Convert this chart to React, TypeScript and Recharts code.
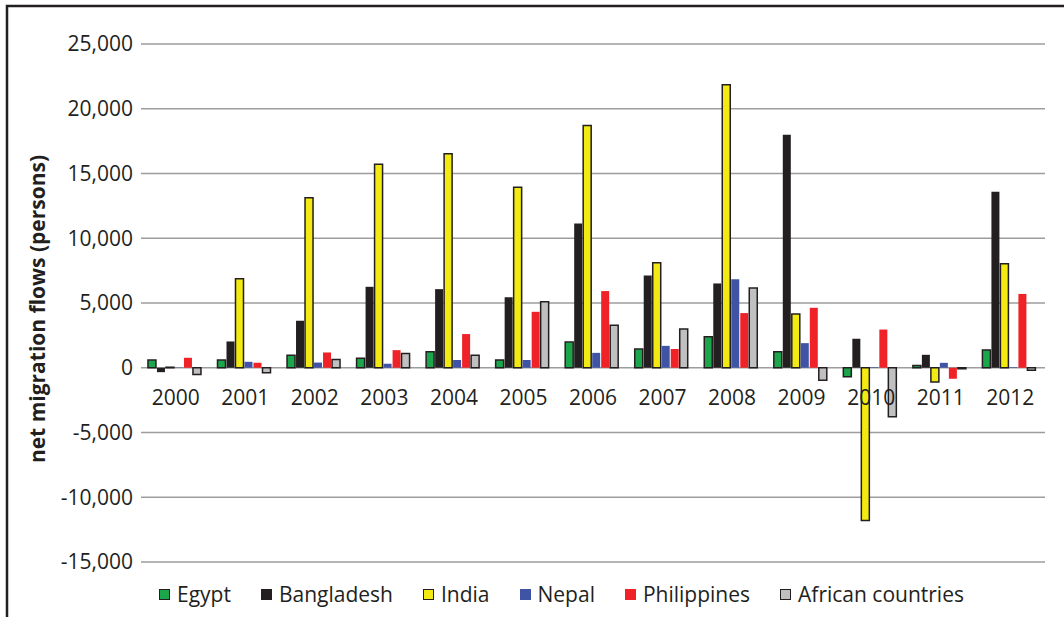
import React from "react";
import { BarChart, Bar, XAxis, YAxis, CartesianGrid } from "recharts";

const years = ["2000", "2001", "2002", "2003", "2004", "2005", "2006", "2007", "2008", "2009", "2010", "2011", "2012"];
const egypt = [590, 590, 970, 740, 1230, 600, 1980, 1440, 2400, 1230, -700, 180, 1370];
const bangladesh = [-340, 2030, 3630, 6250, 6070, 5450, 11140, 7130, 6510, 17990, 2240, 1000, 13590];
const india = [40, 6870, 13130, 15720, 16530, 13940, 18700, 8100, 21850, 4150, -11800, -1100, 8030];
const nepal = [20, 460, 400, 310, 600, 600, 1150, 1690, 6840, 1900, 50, 380, 50];
const philippines = [770, 390, 1180, 1360, 2600, 4320, 5920, 1450, 4220, 4630, 2950, -850, 5700];
const african = [-520, -390, 640, 1100, 970, 5100, 3290, 3000, 6150, -960, -3780, -80, -200];
const yTicks = [-15000, -10000, -5000, 0, 5000, 10000, 15000, 20000, 25000];

const W = 1064;
const H = 617;
const TOP = 44;
const BOTTOM = 562;
const Y_MIN = -15000;
const Y_MAX = 25000;
const INK = "#231F20";
const FONT = "'Open Sans', sans-serif";

const series = [
  { key: "egypt", name: "Egypt", color: "#1CA64B", outlined: true },
  { key: "bangladesh", name: "Bangladesh", color: INK, outlined: false },
  { key: "india", name: "India", color: "#F2EA12", outlined: true },
  { key: "nepal", name: "Nepal", color: "#3F54A5", outlined: false },
  { key: "philippines", name: "Philippines", color: "#EE2227", outlined: false },
  { key: "african", name: "African countries", color: "#C0C0C0", outlined: true },
];

const data = years.map((year, i) => ({
  year,
  egypt: egypt[i],
  bangladesh: bangladesh[i],
  india: india[i],
  nepal: nepal[i],
  philippines: philippines[i],
  african: african[i],
}));

// year labels sit just under the zero line, like Excel does
const zeroY = TOP + (BOTTOM - TOP) * (Y_MAX / (Y_MAX - Y_MIN));

const YearTick = (props: any) => {
  const { x, payload } = props;
  return (
    <text x={x} y={zeroY + 37} textAnchor="middle" fill={INK} fontFamily={FONT} fontSize={21}>
      {payload.value}
    </text>
  );
};

const App = () => {
  return (
    <div style={{ position: "fixed", left: 0, top: 0, width: W, height: H, overflow: "hidden", background: "#fff" }}>
      <div style={{ position: "absolute", left: 0, top: 0 }}>
        <BarChart
          width={W}
          height={H}
          data={data}
          margin={{ top: TOP, right: 19, left: 0, bottom: H - BOTTOM - 30 }}
          barCategoryGap="10%"
          barGap={1}
        >
          <CartesianGrid vertical={false} stroke="#9D9D9D" strokeWidth={1.5} />
          <XAxis
            dataKey="year"
            height={30}
            axisLine={false}
            tickLine={false}
            interval={0}
            tick={<YearTick />}
          />
          <YAxis
            width={141}
            domain={[Y_MIN, Y_MAX]}
            ticks={yTicks}
            axisLine={false}
            tickLine={false}
            tickFormatter={(v: number) => v.toLocaleString("en-US")}
            tick={{ fill: INK, fontFamily: FONT, fontSize: 21 }}
            label={{
              value: "net migration flows (persons)",
              angle: -90,
              position: "center",
              dx: -33,
              dy: 6,
              style: { fill: INK, fontFamily: FONT, fontSize: 21, fontWeight: 700, textAnchor: "middle" },
            }}
          />
          {series.map((s) => (
            <Bar
              key={s.key}
              dataKey={s.key}
              name={s.name}
              fill={s.color}
              stroke={s.outlined ? INK : "none"}
              strokeWidth={s.outlined ? 1.5 : 0}
              isAnimationActive={false}
            />
          ))}
        </BarChart>
      </div>
      <div
        style={{
          position: "absolute",
          left: 159,
          top: 580,
          display: "flex",
          alignItems: "center",
          gap: 30,
          fontFamily: FONT,
          fontSize: 21,
          color: INK,
          whiteSpace: "nowrap",
        }}
      >
        {series.map((s) => (
          <div key={s.key} style={{ display: "flex", alignItems: "center", gap: 7 }}>
            <div
              style={{
                width: 11,
                height: 11,
                boxSizing: "border-box",
                background: s.color,
                border: s.outlined ? `1.5px solid ${INK}` : "none",
              }}
            />
            <span>{s.name}</span>
          </div>
        ))}
      </div>
      {/* frame of the original figure, cut off on the right and bottom */}
      <svg
        width={W}
        height={H}
        style={{ position: "absolute", left: 0, top: 0, pointerEvents: "none" }}
      >
        <path d={`M7,${H} L7,6 L${W},6`} fill="none" stroke={INK} strokeWidth={2.5} />
      </svg>
    </div>
  );
};

export default App;
